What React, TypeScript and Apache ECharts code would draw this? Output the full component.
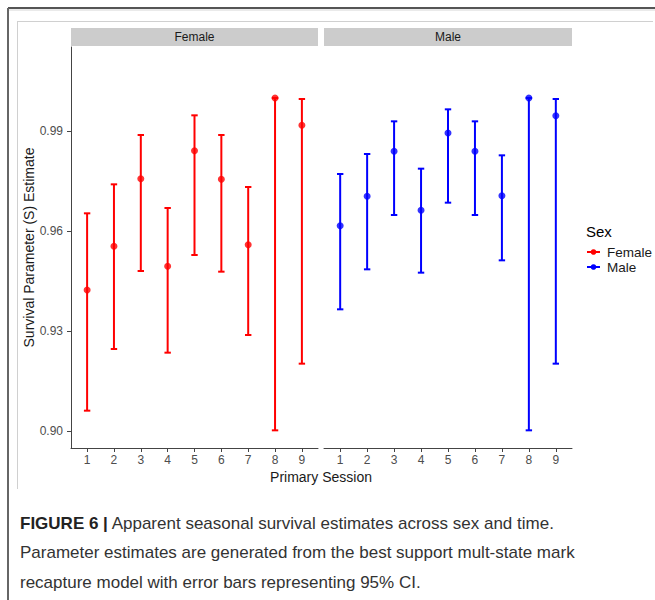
import React, { useEffect, useRef } from "react";
import * as echarts from "echarts";

const sessions = [1, 2, 3, 4, 5, 6, 7, 8, 9];
const femaleEst = [0.9424, 0.9555, 0.9758, 0.9495, 0.9842, 0.9756, 0.956, 1.0, 0.9918];
const femaleLow = [0.9062, 0.9247, 0.9481, 0.9236, 0.9529, 0.9479, 0.9289, 0.9003, 0.9203];
const femaleHigh = [0.9654, 0.9741, 0.9889, 0.967, 0.9948, 0.9889, 0.9733, 1.0, 0.9997];
const maleEst = [0.9617, 0.9705, 0.984, 0.9663, 0.9895, 0.984, 0.9707, 1.0, 0.9947];
const maleLow = [0.9366, 0.9486, 0.9649, 0.9476, 0.9686, 0.9649, 0.9513, 0.9003, 0.9203];
const maleHigh = [0.9772, 0.9832, 0.993, 0.9788, 0.9966, 0.993, 0.9828, 1.0, 0.9997];
const yTicks = [0.9, 0.93, 0.96, 0.99];
const panels = ["Female", "Male"];
const colors = ["#ff0000", "#0000ff"];

const captionLines = [
  "{b|FIGURE 6 |} Apparent seasonal survival estimates across sex and time.",
  "Parameter estimates are generated from the best support mult-state mark",
  "recapture model with error bars representing 95% CI.",
];

const FONT = "Liberation Sans, Arial, sans-serif";

export default function App() {
  const ref = useRef<HTMLDivElement>(null);
  useEffect(() => {
    if (!ref.current) return;
    const chart = echarts.init(ref.current, null, { renderer: "svg" });

    const errData = (low: number[], high: number[]) =>
      sessions.map((s, i) => [s, low[i], high[i]]);
    const ptData = (est: number[]) => sessions.map((s, i) => [s, est[i]]);

    const renderErr = (color: string) => (params: any, api: any) => {
      const x = api.value(0);
      const lo = api.coord([x, api.value(1)]);
      const hi = api.coord([x, api.value(2)]);
      const hw = 3.2;
      const st = { stroke: color, lineWidth: 2 };
      return {
        type: "group",
        children: [
          { type: "line", shape: { x1: lo[0], y1: lo[1], x2: hi[0], y2: hi[1] }, style: st },
          { type: "line", shape: { x1: lo[0] - hw, y1: lo[1], x2: lo[0] + hw, y2: lo[1] }, style: st },
          { type: "line", shape: { x1: hi[0] - hw, y1: hi[1], x2: hi[0] + hw, y2: hi[1] }, style: st },
        ],
      };
    };

    const gridBox = [
      { left: 71, top: 47, width: 247, height: 401 },
      { left: 324, top: 47, width: 248, height: 401 },
    ];

    const xAxisBase = (gi: number) => ({
      type: "value",
      gridIndex: gi,
      min: 0.4,
      max: 9.6,
      splitLine: { show: false },
      axisLine: { show: true, onZero: false, lineStyle: { color: "#444", width: 1 } },
      axisTick: { show: true, length: 4, customValues: sessions, lineStyle: { color: "#444" } },
      axisLabel: {
        customValues: sessions,
        color: "#4d4d4d",
        fontSize: 12,
        fontFamily: FONT,
        margin: 6,
      },
    });

    const yAxisBase = (gi: number) => ({
      type: "value",
      gridIndex: gi,
      min: 0.895,
      max: 1.0153,
      splitLine: { show: false },
      axisLine: { show: gi === 0, lineStyle: { color: "#444", width: 1 } },
      axisTick: { show: gi === 0, length: 4, customValues: yTicks, lineStyle: { color: "#444" } },
      axisLabel: {
        show: gi === 0,
        customValues: yTicks,
        formatter: (v: number) => v.toFixed(2),
        color: "#4d4d4d",
        fontSize: 12,
        fontFamily: FONT,
        margin: 8,
      },
      name: gi === 0 ? "Survival Parameter (S) Estimate" : "",
      nameLocation: "middle",
      nameRotate: 90,
      nameGap: 29,
      nameTextStyle: { color: "#1a1a1a", fontSize: 14, fontFamily: FONT },
    });

    const stripGraphics: any[] = [];
    panels.forEach((p, i) => {
      const g = gridBox[i];
      stripGraphics.push({
        type: "rect",
        shape: { x: g.left, y: 28, width: g.width, height: 18 },
        style: { fill: "#cccccc" },
      });
      stripGraphics.push({
        type: "text",
        x: g.left + g.width / 2,
        y: 37,
        style: {
          text: p,
          fill: "#1a1a1a",
          fontSize: 12,
          fontFamily: FONT,
          align: "center",
          verticalAlign: "middle",
        },
      });
    });

    const legendGraphics: any[] = [
      {
        type: "text",
        x: 586,
        y: 231,
        style: { text: "Sex", fill: "#000", fontSize: 15, fontFamily: FONT, verticalAlign: "middle" },
      },
    ];
    panels.forEach((p, i) => {
      const y = 252 + i * 15;
      legendGraphics.push({
        type: "line",
        shape: { x1: 587, y1: y, x2: 600, y2: y },
        style: { stroke: colors[i], lineWidth: 2 },
      });
      legendGraphics.push({
        type: "circle",
        shape: { cx: 593.5, cy: y, r: 2.8 },
        style: { fill: colors[i] },
      });
      legendGraphics.push({
        type: "text",
        x: 607,
        y: y,
        style: { text: p, fill: "#1a1a1a", fontSize: 13.5, fontFamily: FONT, verticalAlign: "middle" },
      });
    });

    const frameGraphics: any[] = [
      { type: "line", shape: { x1: 8, y1: 8, x2: 655, y2: 8 }, style: { stroke: "#555", lineWidth: 2 } },
      { type: "line", shape: { x1: 8, y1: 8, x2: 8, y2: 600 }, style: { stroke: "#666", lineWidth: 2 } },
      { type: "line", shape: { x1: 9, y1: 10, x2: 655, y2: 10 }, style: { stroke: "#d6d6d6", lineWidth: 1 } },
      { type: "line", shape: { x1: 17, y1: 21.5, x2: 653, y2: 21.5 }, style: { stroke: "#d0d0d0", lineWidth: 1 } },
      { type: "line", shape: { x1: 17.5, y1: 21, x2: 17.5, y2: 489 }, style: { stroke: "#d0d0d0", lineWidth: 1 } },
    ];

    const captionGraphics: any[] = captionLines.map((t, i) => ({
      type: "text",
      x: 20,
      y: 523 + i * 29.5,
      style: {
        text: t,
        fill: "#333",
        fontSize: 17,
        fontFamily: FONT,
        verticalAlign: "middle",
        rich: { b: { fontWeight: "bold", fontSize: 17, fill: "#222", fontFamily: FONT } },
      },
    }));

    chart.setOption({
      animation: false,
      backgroundColor: "#ffffff",
      grid: gridBox.map((g) => ({ ...g, containLabel: false })),
      xAxis: [xAxisBase(0), xAxisBase(1)],
      yAxis: [yAxisBase(0), yAxisBase(1)],
      series: [
        {
          name: "Female CI",
          type: "custom",
          xAxisIndex: 0,
          yAxisIndex: 0,
          renderItem: renderErr(colors[0]),
          data: errData(femaleLow, femaleHigh),
          encode: { x: 0, y: [1, 2] },
        },
        {
          name: "Female",
          type: "scatter",
          xAxisIndex: 0,
          yAxisIndex: 0,
          symbolSize: 7,
          itemStyle: { color: colors[0] },
          data: ptData(femaleEst),
        },
        {
          name: "Male CI",
          type: "custom",
          xAxisIndex: 1,
          yAxisIndex: 1,
          renderItem: renderErr(colors[1]),
          data: errData(maleLow, maleHigh),
          encode: { x: 0, y: [1, 2] },
        },
        {
          name: "Male",
          type: "scatter",
          xAxisIndex: 1,
          yAxisIndex: 1,
          symbolSize: 7,
          itemStyle: { color: colors[1] },
          data: ptData(maleEst),
        },
      ],
      graphic: [
        ...frameGraphics,
        ...stripGraphics,
        {
          type: "text",
          x: 321,
          y: 477,
          style: {
            text: "Primary Session",
            fill: "#1a1a1a",
            fontSize: 14,
            fontFamily: FONT,
            align: "center",
            verticalAlign: "middle",
          },
        },
        ...legendGraphics,
        ...captionGraphics,
      ],
    });
    return () => chart.dispose();
  }, []);

  return (
    <div
      ref={ref}
      style={{ position: "fixed", left: 0, top: 0, width: 655, height: 600, background: "#fff" }}
    />
  );
}
